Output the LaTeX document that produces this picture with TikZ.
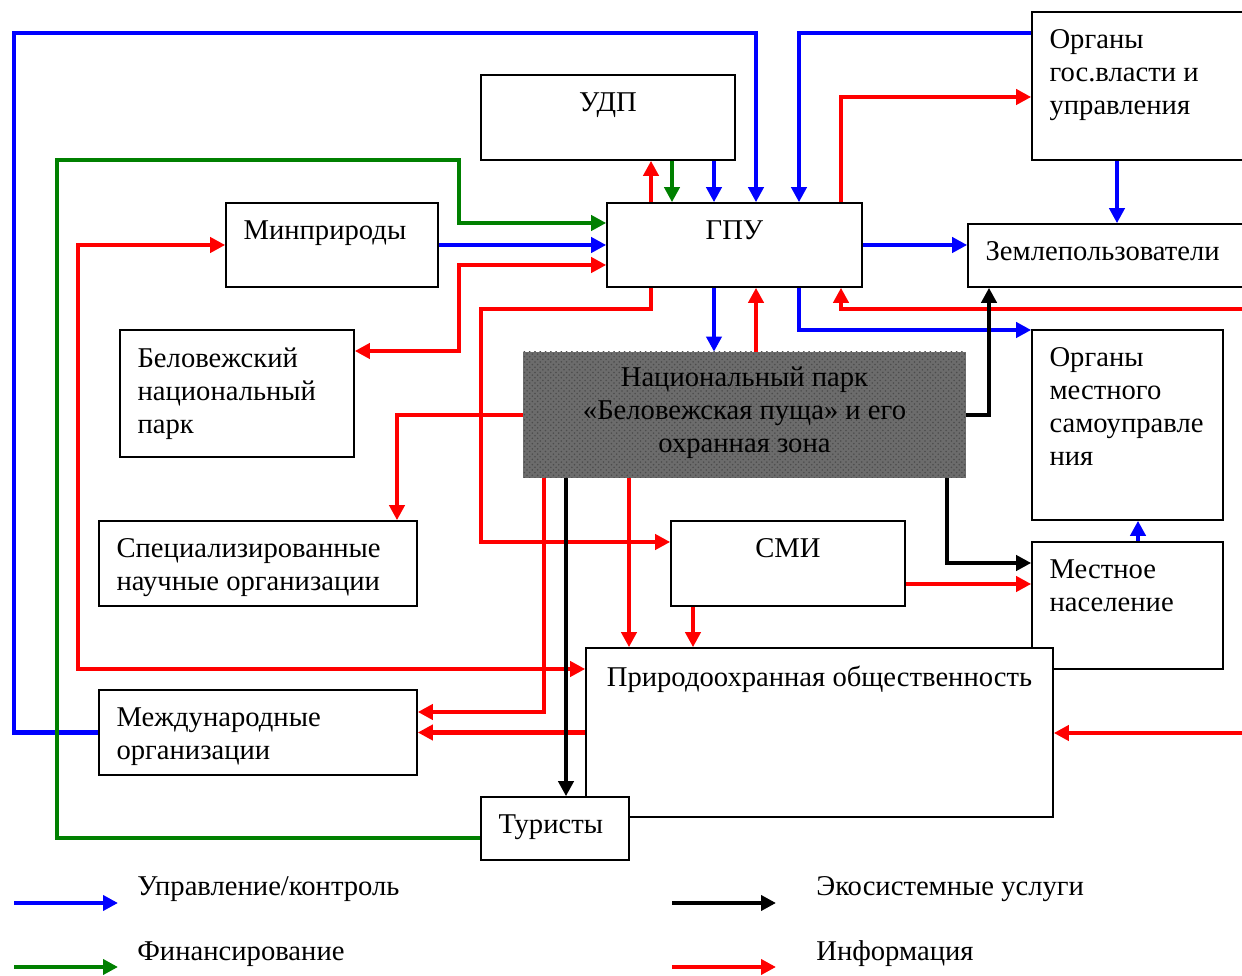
\documentclass[tikz,border=0pt]{standalone}
\usepackage{fontspec}
\setmainfont{Liberation Serif}
\usetikzlibrary{arrows.meta,positioning,fit,patterns}

\begin{document}
\begin{tikzpicture}[x=0.02cm, y=-0.02cm,
    >={Triangle[length=0.3cm, width=0.3cm]},
    font=\fontsize{16.3pt}{18.8pt}\selectfont,
    box/.style={draw, line width=0.9pt, fill=white, inner sep=0pt},
    park/.style={fill=gray!85!black, postaction={pattern=crosshatch dots, pattern color=black!70}, inner sep=0pt},
    txt/.style={anchor=north west, inner sep=0pt, align=left, xshift=0.36cm, yshift=-0.36cm},
    ctxt/.style={anchor=north, inner sep=0pt, align=center, yshift=-0.36cm},
    ln/.style={line width=2.5pt},
    ctrl/.style={ln, ->, blue},
    fin/.style={ln, ->, green!50!black},
    eco/.style={ln, ->, black},
    inf/.style={ln, ->, red},
    inf2/.style={ln, <->, red}]
   \useasboundingbox (0,0) rectangle (1242,976);

   \node [box, fit={(481,75) (735,160)}, label={[ctxt]north:УДП}] (udp) {};
   \node [box, fit={(607,203) (862,287)}, label={[ctxt]north:ГПУ}] (gpu) {};
   \node [box, fit={(1032,12) (1262,160)}, label={[txt]north west:{Органы\\гос.власти и\\управления}}] (org) {};
   \node [box, fit={(968,224) (1262,287)}, label={[txt]north west:Землепользователи}] (zem) {};
   \node [box, fit={(226,203) (438,287)}, label={[txt]north west:Минприроды}] (minpr) {};
   \node [box, fit={(120,330) (354,457)}, label={[txt]north west:{Беловежский\\национальный\\парк}}] (belov) {};
   \node [park, fit={(523,352) (966,478)}, label={[ctxt, yshift=0.06cm]north:{Национальный парк\\«Беловежская пуща» и его\\охранная зона}}] (np) {};
   \node [box, fit={(1032,330) (1223,520)}, label={[txt]north west:{Органы\\местного\\самоуправле\\ния}}] (oms) {};
   \node [box, fit={(99,521) (417,606)}, label={[txt]north west:{Специализированные\\научные организации}}] (sci) {};
   \node [box, fit={(671,521) (905,606)}, label={[ctxt]north:СМИ}] (smi) {};
   \node [box, fit={(1032,542) (1223,669)}, label={[txt]north west:{Местное\\население}}] (mest) {};
   \node [box, fit={(586,648) (1053,817)}, label={[ctxt]north:Природоохранная общественность}] (prir) {};
   \node [box, fit={(99,690) (417,775)}, label={[txt]north west:{Международные\\организации}}] (mezh) {};
   \node [box, fit={(481,797) (629,860)}, label={[txt]north west:Туристы}] (tur) {};

   \coordinate (eA) at (1262,309);
   \coordinate (eB) at (1262,733);

   % управление
   \draw[ctrl] (mezh.west) -| (14,33) -| (gpu.north -| 756,0);
   \draw[ctrl] (org.west |- 0,33) -| (gpu.north -| 799,0);
   \draw[ctrl] (udp.south -| 714,0) -- (gpu.north -| 714,0);
   \draw[ctrl] (minpr.east) -- (gpu.west |- minpr.east);
   \draw[ctrl] (gpu.east) -- (zem.west |- gpu.east);
   \draw[ctrl] (org.south -| 1117,0) -- (zem.north -| 1117,0);
   \draw[ctrl] (gpu.south -| 714,0) -- (np.north -| 714,0);
   \draw[ctrl] (gpu.south -| 799,0) |- (oms.west |- 0,330);
   \draw[ctrl] (mest.north -| 1138,0) -- (oms.south -| 1138,0);

   % финансирование
   \draw[fin] (tur.west |- 0,838) -| (57,160) -| (459,223) -- (gpu.west |- 0,223);
   \draw[fin] (udp.south -| 672,0) -- (gpu.north -| 672,0);

   % информация
   \draw[inf] (gpu.north -| 651,0) -- (udp.south -| 651,0);
   \draw[inf] (gpu.north -| 841,0) |- (org.west |- 0,97);
   \draw[inf] (eA) -| (gpu.south -| 841,0);
   \draw[inf] (np.north -| 756,0) -- (gpu.south -| 756,0);
   \draw[inf] (gpu.south -| 651,0) |- (481,309) |- (smi.west |- 0,542);
   \draw[inf2] (belov.east |- 0,351) -| (459,265) -- (gpu.west |- 0,265);
   \draw[inf] (np.west) -| (sci.north -| 397,0);
   \draw[inf2] (minpr.west) -| (78,669) -- (prir.west |- 0,669);
   \draw[inf] (np.south -| 544,0) |- (mezh.east |- 0,712);
   \draw[inf] (prir.west) -- (mezh.east);
   \draw[inf] (np.south -| 629,0) -- (prir.north -| 629,0);
   \draw[inf] (smi.south -| 693,0) -- (prir.north -| 693,0);
   \draw[inf] (smi.east |- 0,584) -- (mest.west |- 0,584);
   \draw[inf] (eB) -- (prir.east |- eB);

   % экосистемные услуги
   \draw[eco] (np.south -| 566,0) -- (tur.north -| 566,0);
   \draw[eco] (np.east) -| (zem.south -| 989,0);
   \draw[eco] (np.south -| 947,0) |- (mest.west |- 0,563);

   % легенда
   \coordinate (lg1a) at (14,903);  \coordinate (lg1b) at (118,903);
   \coordinate (lg2a) at (14,967);  \coordinate (lg2b) at (118,967);
   \coordinate (lg3a) at (672,903); \coordinate (lg3b) at (776,903);
   \coordinate (lg4a) at (672,967); \coordinate (lg4b) at (776,967);
   \draw[ctrl] (lg1a) -- (lg1b);
   \draw[fin] (lg2a) -- (lg2b);
   \draw[eco] (lg3a) -- (lg3b);
   \draw[inf] (lg4a) -- (lg4b);
   \node [anchor=base west, inner sep=0pt] (lg1) at (137,895) {Управление/контроль};
   \node [anchor=base west, inner sep=0pt] (lg2) at (137,960) {Финансирование};
   \node [anchor=base west, inner sep=0pt] (lg3) at (816,895) {Экосистемные услуги};
   \node [anchor=base west, inner sep=0pt] (lg4) at (816,960) {Информация};
\end{tikzpicture}
\end{document}
